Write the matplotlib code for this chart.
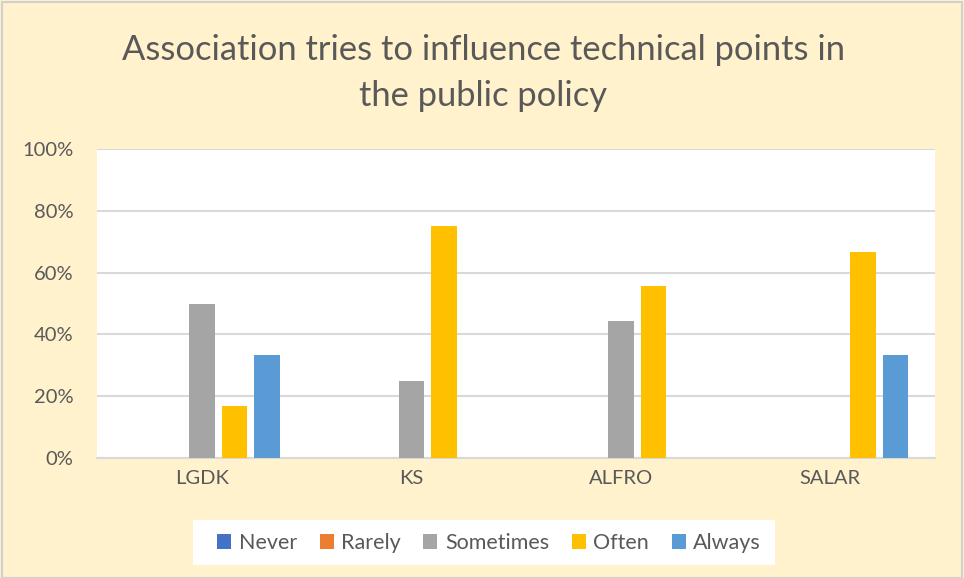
import matplotlib
matplotlib.use("Agg")
import matplotlib.pyplot as plt
import numpy as np

categories = ["LGDK", "KS", "ALFRO", "SALAR"]
series_names = ["Never", "Rarely", "Sometimes", "Often", "Always"]
never = [0, 0, 0, 0]
rarely = [0, 0, 0, 0]
sometimes = [50.0, 25.0, 44.44, 0]
often = [16.67, 75.0, 55.56, 66.67]
always = [33.33, 0, 0, 33.33]
colors = ["#4472C4", "#ED7D31", "#A5A5A5", "#FFC000", "#5B9BD5"]
yticks = [0, 20, 40, 60, 80, 100]

plt.rcParams['font.family'] = ['Lato', 'DejaVu Sans']
fig = plt.figure(figsize=(9.64, 5.78), dpi=100)
fig.patch.set_facecolor("#FFF2CC")
W, H = 964, 578
ax = fig.add_axes([97 / W, 1 - 458 / H, (935 - 97) / W, (458 - 149) / H])
ax.set_facecolor("white")

x = np.arange(len(categories))
slot = 32.5 / 209.5
bw = 25.5 / 209.5
data = [never, rarely, sometimes, often, always]
for i, (name, vals, c) in enumerate(zip(series_names, data, colors)):
    ax.bar(x + (i - 2) * slot, vals, width=bw, color=c, label=name, zorder=3)

ax.set_xlim(-0.5, len(categories) - 0.5)
ax.set_ylim(0, 100)
ax.set_yticks(yticks)
ax.set_yticklabels([f"{v}%" for v in yticks])
ax.set_xticks(x)
ax.set_xticklabels(categories)
ax.grid(axis="y", color="#D9D9D9", linewidth=1.5, zorder=0)
for s in ["top", "right", "left"]:
    ax.spines[s].set_visible(False)
ax.spines["bottom"].set_color("#D9D9D9")
ax.spines["bottom"].set_linewidth(1.5)
ax.tick_params(axis="both", length=0, labelsize=14.5, colors="#595959", pad=9)
ax.tick_params(axis="y", pad=17)

fig.text(483 / W, 1 - 50 / H, "Association tries to influence technical points in",
         ha="center", va="center", fontsize=24.8, color="#595959")
fig.text(483 / W, 1 - 96 / H, "the public policy",
         ha="center", va="center", fontsize=24.8, color="#595959")

# legend background box
lb = plt.Rectangle((193 / W, 1 - 565 / H), (775 - 193) / W, 45 / H, transform=fig.transFigure,
                   facecolor="white", edgecolor="none", zorder=1)
fig.patches.append(lb)
leg = fig.legend(loc="center", bbox_to_anchor=(489 / W, 1 - 543 / H), ncol=5,
                 frameon=False, fontsize=15.5, handlelength=0.65, handleheight=0.65,
                 handletextpad=0.35, columnspacing=1.05)
for t in leg.get_texts():
    t.set_color("#595959")

border = plt.Rectangle((2 / W, 0.5 / H), (W - 4) / W, (H - 2) / H, transform=fig.transFigure,
                       fill=False, edgecolor="#D0D0D0", linewidth=1.5)
fig.patches.append(border)

fig.savefig("out.png", dpi=100, facecolor=fig.get_facecolor())
